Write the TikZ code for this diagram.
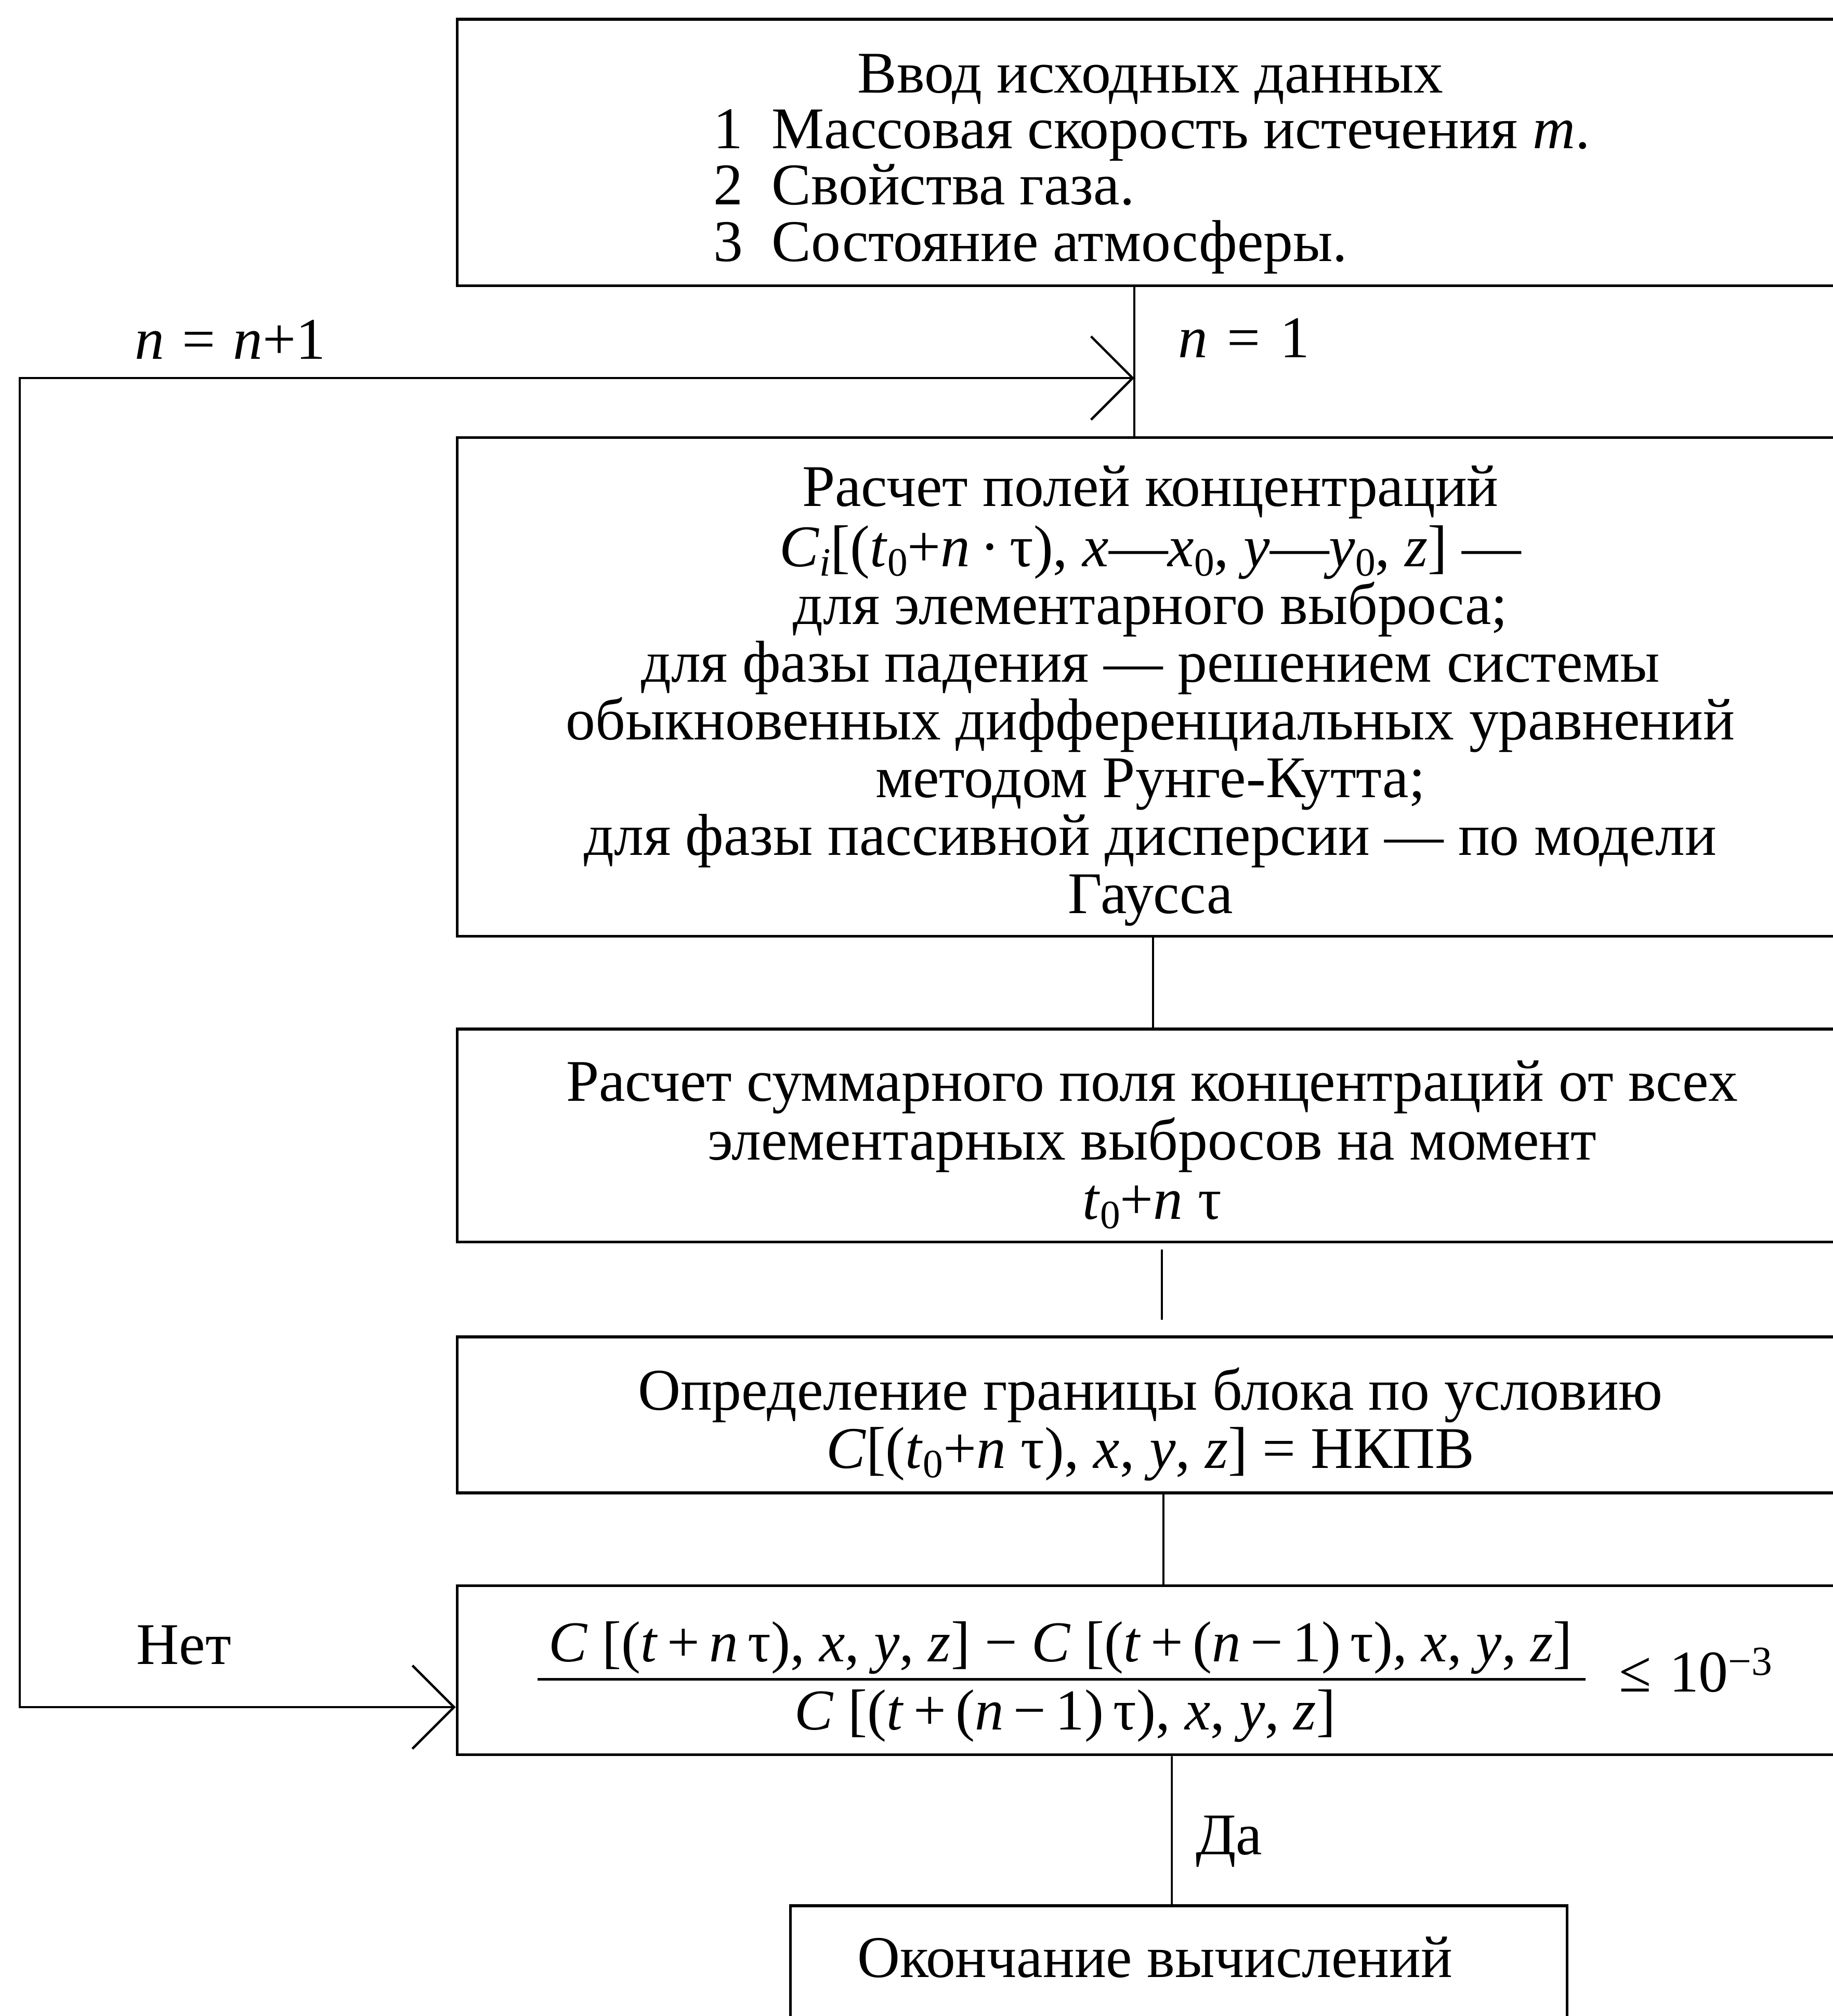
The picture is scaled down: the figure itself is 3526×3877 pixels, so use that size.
\documentclass[tikz,border=0pt]{standalone}
\usepackage{fontspec}
\setmainfont{Liberation Serif}
\usetikzlibrary{arrows.meta}
\newcommand\mi[1]{\textit{#1}}
\newcommand\lo[1]{\raisebox{-0.16em}{\fontsize{22}{22}\selectfont #1}}
\tikzset{
  blk/.style={draw, line width=1.5pt, rectangle, minimum width=26.66cm, inner sep=0pt},
  txt/.style={font=\fontsize{32.3}{31.6}\selectfont, align=center, inner sep=0pt, anchor=base},
  conn/.style={line width=1pt},
  barb/.tip={Straight Barb[length=0.8cm,width=1.6cm,line width=1.3pt]},
  fb/.style={line width=1.3pt, barb-barb}
}
\begin{document}
\begin{tikzpicture}[x=0.01cm,y=-0.01cm]
\useasboundingbox (0,0) rectangle (3526,3877);
\clip (0,0) rectangle (3526,3877);
% boxes
\node[blk, minimum height=5.12cm] (b1) at (2213,293) {};
\node[blk, minimum height=9.58cm] (b2) at (2213,1321) {};
\node[blk, minimum height=4.09cm] (b3) at (2213,2183.5) {};
\node[blk, minimum height=3.0cm] (b4) at (2213,2721) {};
\node[blk, minimum height=3.25cm] (b5) at (2213,3212) {};
\node[blk, minimum width=14.93cm, minimum height=3.0cm] (b6) at (2267.5,3815) {};
% texts (multi-line nodes are anchored at the baseline of their last line)
\node[txt] (t1h) at (2213,178) {Ввод исходных данных};
\node[txt, anchor=base west, align=left, font=\fontsize{32.3}{30.8}\selectfont] (t1l) at (1372,502)
  {\makebox[1.12cm][l]{1}Массовая скорость истечения \mi{m}.\\
   \makebox[1.12cm][l]{2}Свойства газа.\\
   \makebox[1.12cm][l]{3}Состояние атмосферы.};
\node[txt] (t2) at (2213,1756) {Расчет полей концентраций\\[0.05cm]
  \mi{C}\lo{\mi{i}}[(\mi{t}\lo{0}+\mi{n}\,·\,τ), \mi{x}—\mi{x}\lo{0}, \mi{y}—\mi{y}\lo{0}, \mi{z}] —\\
  для элементарного выброса;\\
  для фазы падения — решением системы\\
  обыкновенных дифференциальных уравнений\\
  методом Рунге-Кутта;\\
  для фазы пассивной дисперсии — по модели\\
  Гаусса};
\node[txt, font=\fontsize{32.3}{32.2}\selectfont] (t3) at (2216,2344) {Расчет суммарного поля концентраций от всех\\
  элементарных выбросов на момент\\
  \mi{t}\lo{0}+\mi{n} τ};
\node[txt] (t4) at (2213,2823) {Определение границы блока по условию\\
  \mi{C}[(\mi{t}\lo{0}+\mi{n} τ), \mi{x}, \mi{y}, \mi{z}] = НКПВ};
\node[txt, font=\fontsize{31.6}{31.6}\selectfont] (num) at (2040,3195) {\mi{C} [(\mi{t}\,+\,\mi{n}\,τ), \mi{x}, \mi{y}, \mi{z}] − \mi{C} [(\mi{t}\,+\,(\mi{n}\,−\,1)\,τ), \mi{x}, \mi{y}, \mi{z}]};
\node[txt, font=\fontsize{31.6}{31.6}\selectfont] (den) at (2049,3326) {\mi{C} [(\mi{t}\,+\,(\mi{n}\,−\,1)\,τ), \mi{x}, \mi{y}, \mi{z}]};
\draw[line width=1.4pt] (1034,3229) -- (3050,3229);
\node[txt, anchor=base west] (le) at (3114,3253) {≤\hspace{0.3em}10\textsuperscript{−3}};
\node[txt] (t6) at (2222,3802) {Окончание вычислений};
% labels
\node[txt] (lnn) at (443,690) {\mi{n}\hspace{0.3em}=\hspace{0.3em}\mi{n}+1};
\node[txt] (ln1) at (2393,687) {\mi{n}\hspace{0.33em}=\hspace{0.33em}1};
\node[txt] (lno) at (354,3200) {Нет};
\node[txt] (lda) at (2364,3566) {Да};
% connectors
\coordinate (j1) at (2182,727);
\coordinate (c1) at (38,727);
\coordinate (c2) at (38,3283);
\draw[conn] (b1.south -| j1) -- (b2.north -| j1);
\draw[conn] ([xshift=0.05cm]b2.south) -- ([xshift=0.05cm]b3.north);
\draw[conn] ([xshift=0.22cm,yshift=-0.12cm]b3.south) -- ([xshift=0.22cm,yshift=0.3cm]b4.north);
\draw[conn] ([xshift=0.25cm]b4.south) -- ([xshift=0.25cm]b5.north);
\draw[conn] ([xshift=0.41cm]b5.south) -- ([xshift=-0.135cm]b6.north);
\draw[fb] (b5.west |- c2) -- (c2) -- (c1) -- (j1);
\end{tikzpicture}
\end{document}
